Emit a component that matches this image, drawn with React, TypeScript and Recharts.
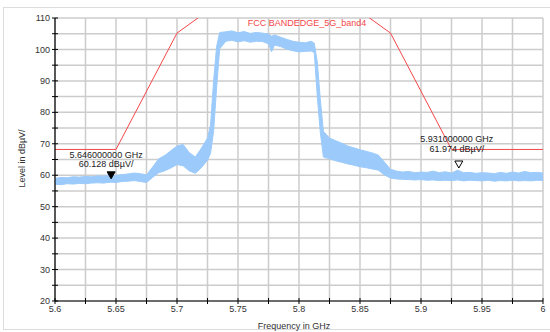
import {
  ComposedChart,
  Area,
  Line,
  XAxis,
  YAxis,
  CartesianGrid,
  ReferenceDot,
} from "recharts";

// spectrum trace: frequency (GHz) with the min / max envelope of the sweep (dBµV)
const traceFreq = [
  5.6, 5.605, 5.61, 5.615, 5.62, 5.625, 5.63, 5.635, 5.64, 5.645, 5.65, 5.655, 5.66, 5.665,
  5.67, 5.675, 5.68, 5.685, 5.69, 5.695, 5.7, 5.705, 5.71, 5.715, 5.72, 5.725, 5.7275, 5.73,
  5.7325, 5.735, 5.74, 5.745, 5.75, 5.755, 5.76, 5.765, 5.77, 5.775, 5.7775, 5.78, 5.785,
  5.79, 5.795, 5.8, 5.805, 5.81, 5.8125, 5.815, 5.8175, 5.82, 5.825, 5.83, 5.835, 5.84,
  5.845, 5.85, 5.855, 5.86, 5.865, 5.87, 5.875, 5.88, 5.885, 5.89, 5.895, 5.9, 5.905, 5.91,
  5.915, 5.92, 5.925, 5.93, 5.935, 5.94, 5.945, 5.95, 5.955, 5.96, 5.965, 5.97, 5.975, 5.98,
  5.985, 5.99, 5.995, 6.0,
];
const traceLow = [
  57.1, 57.0, 57.3, 57.2, 57.4, 57.3, 57.5, 57.6, 57.5, 57.8, 57.7, 58.0, 58.1, 58.3,
  58.0, 57.7, 59.3, 60.8, 61.4, 62.3, 63.4, 63.0, 61.4, 60.6, 62.4, 64.8, 67.0, 74.0,
  88.0, 100.2, 102.6, 102.9, 102.4, 102.8, 102.3, 102.6, 102.5, 101.8, 99.3, 101.4, 100.9,
  100.1, 99.6, 99.2, 99.4, 99.5, 99.0, 85.0, 73.5, 65.8, 65.2, 64.6, 64.1, 63.6,
  63.2, 62.7, 62.4, 62.0, 61.6, 60.1, 59.1, 58.8, 58.7, 58.6, 58.5, 58.6, 58.4, 58.5,
  58.3, 58.4, 58.3, 58.5, 58.2, 58.4, 58.3, 58.2, 58.4, 58.1, 58.3, 58.2, 58.4, 58.2,
  58.3, 58.2, 58.4, 58.3,
];
const traceHigh = [
  59.0, 59.3, 59.2, 59.5, 59.4, 59.6, 59.5, 59.8, 59.7, 60.0, 59.9, 60.2, 60.4, 60.7,
  60.5, 60.1, 62.6, 65.2, 66.3, 67.8, 69.3, 69.8, 67.2, 65.8, 68.6, 71.8, 76.0, 90.0,
  101.0, 105.4, 105.6, 105.9, 105.3, 105.7, 105.1, 105.4, 105.2, 104.9, 104.2, 104.6, 103.9,
  103.2, 102.6, 102.3, 102.1, 102.6, 102.0, 96.0, 84.0, 74.0, 71.8, 71.0, 70.2, 69.3,
  68.7, 68.1, 67.6, 67.1, 66.4, 64.2, 61.9, 61.3, 61.0, 61.2, 60.8, 61.0, 60.9, 61.3,
  60.8, 61.1, 60.7, 61.6, 60.8, 60.9, 60.6, 60.8, 60.7, 60.5, 60.9, 60.6, 61.0, 60.7,
  61.2, 60.8, 60.9, 60.7,
];

// FCC 15.407 band-edge limit mask (dBµV)
const maskFreq = [5.6, 5.65, 5.7, 5.72, 5.725, 5.85, 5.855, 5.875, 5.925, 6.0];
const maskLevel = [68.2, 68.2, 105.2, 110.8, 122.2, 122.2, 110.8, 105.2, 68.2, 68.2];

// marker readouts
const markerFreq = [5.646, 5.931];
const markerLevel = [60.128, 61.974];

const xTicks = [
  5.6, 5.625, 5.65, 5.675, 5.7, 5.725, 5.75, 5.775, 5.8, 5.825, 5.85, 5.875, 5.9, 5.925,
  5.95, 5.975, 6,
];
const yTicks = [20, 25, 30, 35, 40, 45, 50, 55, 60, 65, 70, 75, 80, 85, 90, 95, 100, 105, 110];

const FONT = "'Liberation Sans', Arial, sans-serif";
const TRACE = "#9ccbfb";
const LIMIT = "#f4474a";

const maskAt = (f: number) => {
  const i = maskFreq.findIndex((m) => Math.abs(m - f) < 1e-6);
  return i >= 0 ? maskLevel[i] : undefined;
};

const rows = traceFreq.map((f, i) => ({
  f,
  band: [traceLow[i], traceHigh[i]],
  mask: maskAt(f),
}));

const renderXTick = (p: any) => (
  <g>
    <line x1={p.x} x2={p.x} y1={p.y - 3} y2={p.y + 3} stroke="#000" />
    {p.index % 2 === 0 && (
      <text x={p.x} y={p.y + 5} dy="0.71em" textAnchor="middle" fontSize={9} fill="#333" fontFamily={FONT}>
        {String(p.payload.value)}
      </text>
    )}
  </g>
);

const renderYTick = (p: any) => (
  <g>
    <line x1={p.x - 3} x2={p.x + 3} y1={p.y} y2={p.y} stroke="#000" />
    {p.payload.value % 10 === 0 && (
      <text x={p.x - 5} y={p.y} dy="0.35em" textAnchor="end" fontSize={9} fill="#333" fontFamily={FONT}>
        {p.payload.value}
      </text>
    )}
  </g>
);

function Marker(props: any) {
  const { cx, cy, freq, level, filled, lift, labelDx, labelDy } = props;
  const top = cy - lift;
  return (
    <g>
      <text x={cx + labelDx} y={cy - labelDy} dy="0.35em" textAnchor="middle" fontSize={9} fill="#222" fontFamily={FONT}>
        {freq.toFixed(9)} GHz
      </text>
      <text x={cx + labelDx} y={cy - labelDy + 9.5} dy="0.35em" textAnchor="middle" fontSize={9} fill="#222" fontFamily={FONT}>
        {level.toFixed(3)} dBµV/
      </text>
      <polygon
        points={`${cx - 4},${top} ${cx + 4},${top} ${cx},${top + 7}`}
        fill={filled ? "#000" : "#fff"}
        stroke="#000"
        strokeWidth={1}
      />
    </g>
  );
}

export default function App() {
  return (
    <div style={{ position: "absolute", left: 0, top: 0, width: 550, height: 332, background: "#fff", overflow: "hidden" }}>
      <div
        style={{
          position: "absolute",
          left: 3,
          top: 7,
          width: 560,
          height: 323,
          border: "1.5px solid #dcdcdc",
          boxSizing: "border-box",
        }}
      />
      <ComposedChart
        width={550}
        height={332}
        data={rows}
        margin={{ top: 18, right: 7, bottom: 0, left: 0 }}
        style={{ position: "absolute", left: 0, top: 0 }}
      >
        <CartesianGrid stroke="#cccccc" strokeWidth={1.5} />
        <XAxis
          dataKey="f"
          type="number"
          domain={[5.6, 6]}
          ticks={xTicks}
          interval={0}
          allowDataOverflow
          height={31}
          tickSize={0}
          tickMargin={0}
          tickLine={false}
          tick={renderXTick}
          axisLine={{ stroke: "#000", strokeWidth: 1.2 }}
          label={{
            content: (p: any) => (
              <text
                x={p.viewBox.x + p.viewBox.width / 2 - 5}
                y={326}
                dy="0.35em"
                textAnchor="middle"
                fontSize={9}
                fill="#333"
                fontFamily={FONT}
              >
                Frequency in GHz
              </text>
            ),
          }}
        />
        <YAxis
          type="number"
          domain={[20, 110]}
          ticks={yTicks}
          interval={0}
          allowDataOverflow
          width={55}
          tickSize={0}
          tickMargin={0}
          tickLine={false}
          tick={renderYTick}
          axisLine={{ stroke: "#000", strokeWidth: 1.2 }}
          label={{
            content: (p: any) => {
              const cy = p.viewBox.y + p.viewBox.height / 2 - 1;
              return (
                <text
                  x={22}
                  y={cy}
                  dy="0.35em"
                  textAnchor="middle"
                  fontSize={9}
                  fill="#333"
                  fontFamily={FONT}
                  transform={`rotate(-90 22 ${cy})`}
                >
                  Level in dBµV/
                </text>
              );
            },
          }}
        />
        <Area
          dataKey="band"
          type="linear"
          stroke={TRACE}
          strokeWidth={1}
          fill={TRACE}
          fillOpacity={1}
          isAnimationActive={false}
          dot={false}
          activeDot={false}
        />
        <Line
          dataKey="mask"
          type="linear"
          stroke={LIMIT}
          strokeWidth={1}
          dot={false}
          activeDot={false}
          connectNulls
          isAnimationActive={false}
        />
        <ReferenceDot
          x={markerFreq[0]}
          y={markerLevel[0]}
          shape={(p: any) => (
            <Marker {...p} freq={markerFreq[0]} level={markerLevel[0]} filled lift={3} labelDx={-5} labelDy={20} />
          )}
        />
        <ReferenceDot
          x={markerFreq[1]}
          y={markerLevel[1]}
          shape={(p: any) => (
            <Marker {...p} freq={markerFreq[1]} level={markerLevel[1]} filled={false} lift={8} labelDx={-2} labelDy={30} />
          )}
        />
      </ComposedChart>
      <div
        style={{
          position: "absolute",
          left: 0,
          width: 614,
          top: 17,
          textAlign: "center",
          fontSize: 9,
          lineHeight: "12px",
          color: LIMIT,
          fontFamily: FONT,
        }}
      >
        FCC BANDEDGE_5G_band4
      </div>
    </div>
  );
}
